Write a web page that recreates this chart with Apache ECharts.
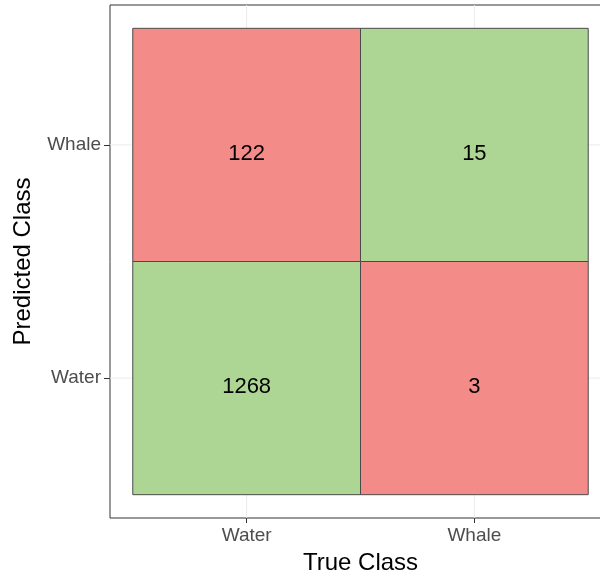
<!DOCTYPE html>
<html>
<head>
<meta charset="utf-8">
<script src="https://cdn.jsdelivr.net/npm/echarts@6/dist/echarts.min.js"></script>
<style>
  html, body { margin: 0; padding: 0; background: #fff; }
  #chart { width: 600px; height: 581px; }
</style>
</head>
<body>
<div id="chart"></div>
<script>
// categories
var trueClass = ["Water", "Whale"];
var predClass = ["Water", "Whale"];
// cells: index into trueClass / predClass, count, correct?
var cellTrue = [0, 0, 1, 1];
var cellPred = [0, 1, 0, 1];
var cellCount = [1268, 122, 3, 15];
var cellCorrect = [true, false, false, true];

var RED = "#f38c89";
var GREEN = "#add594";
var FONT = "'Liberation Sans', Arial, sans-serif";

var tileData = cellCount.map(function (n, i) {
  return [cellTrue[i] + 1, cellPred[i] + 1, n, cellCorrect[i] ? 1 : 0];
});

var myChart = echarts.init(document.getElementById("chart"));
var option = {
  animation: false,
  textStyle: { fontFamily: FONT },
  grid: {
    show: true,
    left: 110,
    top: 5,
    width: 501,
    bottom: 63,
    outerBoundsMode: "none",
    containLabel: false,
    borderColor: "#333",
    borderWidth: 1,
    backgroundColor: "#fff",
  },
  xAxis: {
    type: "value",
    min: 0.4,
    max: 2.6,
    name: "True Class",
    nameLocation: "middle",
    nameGap: 33,
    nameTextStyle: { fontSize: 24, color: "#000", fontFamily: FONT },
    axisLine: { show: false },
    splitLine: { show: false },
    axisTick: {
      show: true,
      customValues: [1, 2],
      length: 5,
      lineStyle: { color: "#333", width: 1 },
    },
    axisLabel: {
      customValues: [1, 2],
      margin: 8,
      fontSize: 19,
      color: "#4d4d4d",
      fontFamily: FONT,
      formatter: function (v) {
        return trueClass[Math.round(v) - 1];
      },
    },
  },
  yAxis: {
    type: "value",
    min: 0.4,
    max: 2.6,
    name: "Predicted Class",
    nameLocation: "middle",
    nameGap: 75,
    nameTextStyle: { fontSize: 24, color: "#000", fontFamily: FONT },
    axisLine: { show: false },
    splitLine: { show: false },
    axisTick: {
      show: true,
      customValues: [1, 2],
      length: 6,
      lineStyle: { color: "#333", width: 1 },
    },
    axisLabel: {
      customValues: [1, 2],
      margin: 9,
      fontSize: 19,
      color: "#4d4d4d",
      fontFamily: FONT,
      formatter: function (v) {
        return predClass[Math.round(v) - 1];
      },
    },
  },
  series: [
    {
      // light grid lines at the category centres
      type: "custom",
      silent: true,
      z: 1,
      data: [1, 2],
      renderItem: function (params, api) {
        var v = api.value(0);
        var cs = params.coordSys;
        var px = api.coord([v, v]);
        return {
          type: "group",
          children: [
            {
              type: "line",
              shape: { x1: px[0], y1: cs.y, x2: px[0], y2: cs.y + cs.height },
              style: { stroke: "#ebebeb", lineWidth: 1 },
            },
            {
              type: "line",
              shape: { x1: cs.x, y1: px[1], x2: cs.x + cs.width, y2: px[1] },
              style: { stroke: "#ebebeb", lineWidth: 1 },
            },
          ],
        };
      },
    },
    {
      type: "custom",
      z: 2,
      data: tileData,
      renderItem: function (params, api) {
        var x = api.value(0);
        var y = api.value(1);
        var p0 = api.coord([x - 0.5, y + 0.5]);
        var p1 = api.coord([x + 0.5, y - 0.5]);
        var c = api.coord([x, y]);
        return {
          type: "group",
          children: [
            {
              type: "rect",
              shape: { x: p0[0], y: p0[1], width: p1[0] - p0[0], height: p1[1] - p0[1] },
              style: {
                fill: api.value(3) ? GREEN : RED,
                stroke: "#4a4a4a",
                lineWidth: 1,
              },
            },
            {
              type: "text",
              x: c[0],
              y: c[1] + 9,
              style: {
                text: String(api.value(2)),
                fill: "#000",
                fontSize: 22,
                fontFamily: FONT,
                align: "center",
                verticalAlign: "middle",
              },
            },
          ],
        };
      },
    },
  ],
};
myChart.setOption(option);
</script>
</body>
</html>
